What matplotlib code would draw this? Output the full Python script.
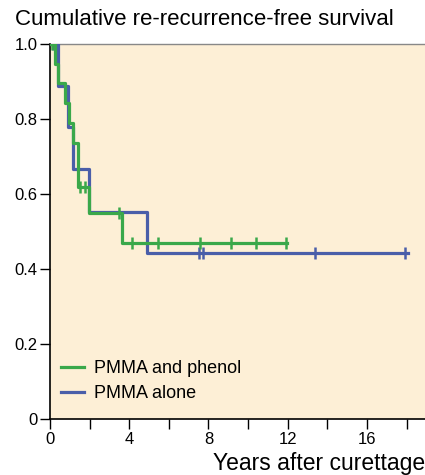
import numpy as np
import matplotlib
matplotlib.use("Agg")
import matplotlib.pyplot as plt

plt.rcParams['font.family'] = ['Liberation Sans', 'DejaVu Sans']

# Data
green_t = [0, 0.27, 0.38, 0.78, 0.95, 1.17, 1.43, 1.95, 3.62, 11.97]
green_s = [1.0, 0.947, 0.895, 0.842, 0.789, 0.735, 0.618, 0.550, 0.470, 0.470]
green_cens = [0.12, 1.52, 1.77, 3.48, 4.12, 5.47, 7.56, 9.13, 10.4, 11.9]

blue_t = [0, 0.42, 0.92, 1.18, 1.97, 4.88, 18.07]
blue_s = [1.0, 0.889, 0.778, 0.667, 0.553, 0.443, 0.443]
blue_cens = [0.15, 7.5, 7.71, 13.38, 17.93]

green_label = "PMMA and phenol"
blue_label = "PMMA alone"

xticks_major = [0, 4, 8, 12, 16]
xticks_minor = [2, 6, 10, 14, 18]
yticks = [0, 0.2, 0.4, 0.6, 0.8, 1.0]
ytick_labels = ["0", "0.2", "0.4", "0.6", "0.8", "1.0"]

GREEN = "#3aa84a"
BLUE = "#4a5ea9"
BG = "#fdefd6"


def step_at(ts, ss, x):
    idx = np.searchsorted(ts, x, side='right') - 1
    return np.array(ss)[idx]


fig = plt.figure(figsize=(4.25, 4.75), dpi=100)
ax = fig.add_axes([50 / 425, 1 - 419 / 475, 1 - 50 / 425, (419 - 44) / 475])
ax.set_facecolor(BG)

ax.step(blue_t, blue_s, where='post', color=BLUE, lw=2.3, label=blue_label, zorder=3)
ax.plot(blue_cens, step_at(blue_t, blue_s, blue_cens), ls='none', marker='|',
        ms=8, mew=1.8, color=BLUE, zorder=3)
ax.step(green_t, green_s, where='post', color=GREEN, lw=2.3, label=green_label, zorder=4)
ax.plot(green_cens, step_at(green_t, green_s, green_cens), ls='none', marker='|',
        ms=8, mew=1.8, color=GREEN, zorder=4)

ax.set_xlim(0, 18.93)
ax.set_ylim(0, 1.0)
ax.set_xticks(xticks_major)
ax.set_xticks(xticks_minor, minor=True)
ax.set_yticks(yticks)
ax.set_yticklabels(ytick_labels)
ax.tick_params(axis='both', which='both', direction='out', length=7, width=1,
               labelsize=12, colors='black')
ax.tick_params(axis='x', pad=2)
ax.tick_params(axis='y', pad=2)

ax.spines['right'].set_visible(False)
ax.spines['top'].set_color('#888888')
ax.spines['top'].set_linewidth(1)
ax.spines['left'].set_linewidth(1.2)
ax.spines['bottom'].set_linewidth(1.2)

h, l = ax.get_legend_handles_labels()
ax.legend([h[1], h[0]], [l[1], l[0]], loc='lower left', frameon=False,
          fontsize=13, handlelength=1.25, handletextpad=0.6, borderpad=0,
          borderaxespad=0, bbox_to_anchor=(11 / 375, 17 / 375), labelspacing=0.42)

fig.text(15 / 425, 1 - 25 / 475, "Cumulative re-recurrence-free survival",
         fontsize=16, va='baseline', ha='left')
fig.text(425 / 425, 1 - 470 / 475, "Years after curettage",
         fontsize=16.5, va='baseline', ha='right')

fig.savefig("out.png", dpi=100, facecolor='white')
